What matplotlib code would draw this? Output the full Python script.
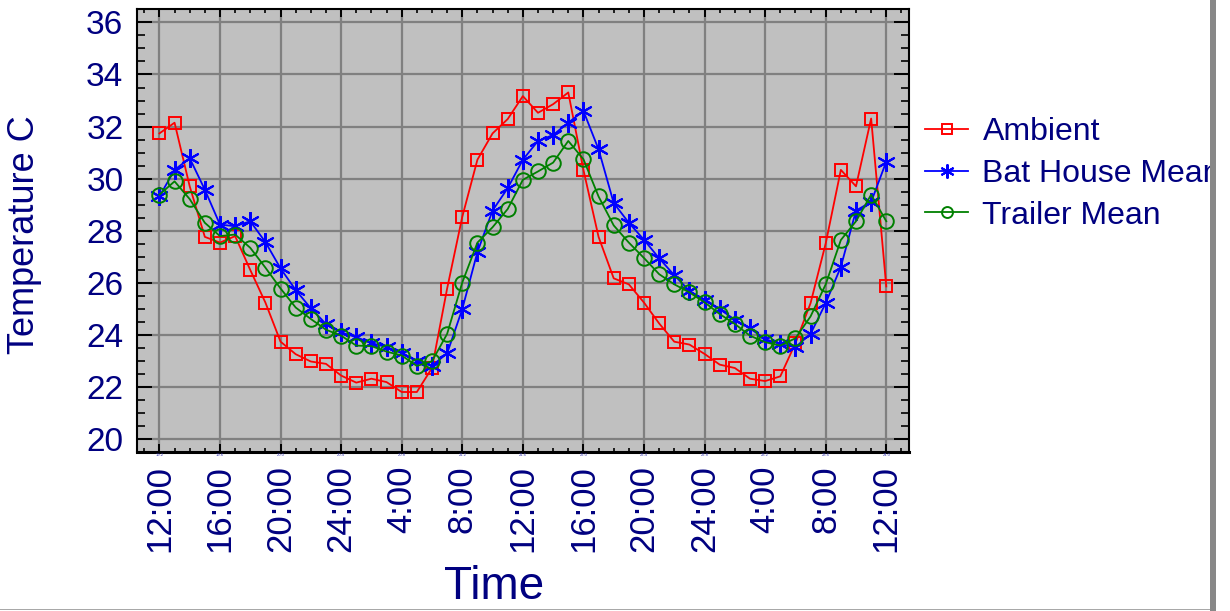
import matplotlib
matplotlib.use("Agg")
import matplotlib.pyplot as plt
from matplotlib.ticker import MultipleLocator, FixedLocator
from matplotlib.patches import Rectangle
import numpy as np

plt.rcParams['font.family'] = ['Liberation Sans', 'DejaVu Sans']

# ---- data (hourly readings, hour 0 = 12:00 on first day) ----
hours = list(range(49))

ambient = [31.74, 32.15, 29.71, 27.77, 27.55, 27.80, 26.50, 25.25, 23.75, 23.27,
           22.99, 22.90, 22.45, 22.18, 22.33, 22.20, 21.82, 21.82, 22.74, 25.79,
           28.54, 30.73, 31.74, 32.29, 33.17, 32.53, 32.86, 33.31, 30.34, 27.77,
           26.18, 25.95, 25.25, 24.45, 23.75, 23.64, 23.28, 22.87, 22.74, 22.33,
           22.24, 22.42, 23.69, 25.23, 27.52, 30.34, 29.71, 32.31, 25.87]

bat_house = [29.32, 30.34, 30.79, 29.58, 28.24, 28.18, 28.37, 27.57, 26.56, 25.73,
             25.03, 24.43, 24.11, 23.92, 23.70, 23.54, 23.32, 23.02, 22.83, 23.30,
             25.00, 27.19, 28.78, 29.64, 30.73, 31.45, 31.68, 32.15, 32.60, 31.13,
             29.07, 28.31, 27.66, 26.95, 26.30, 25.70, 25.34, 25.00, 24.59, 24.26,
             23.85, 23.66, 23.54, 24.05, 25.23, 26.62, 28.78, 29.11, 30.66]

trailer = [29.39, 29.90, 29.22, 28.31, 27.80, 27.86, 27.35, 26.59, 25.79, 25.06,
           24.62, 24.21, 23.98, 23.60, 23.58, 23.37, 23.22, 22.82, 23.00, 24.05,
           26.02, 27.55, 28.14, 28.84, 29.96, 30.28, 30.62, 31.45, 30.75, 29.32,
           28.21, 27.55, 26.96, 26.34, 25.95, 25.64, 25.26, 24.81, 24.43, 23.98,
           23.73, 23.60, 23.88, 24.72, 25.95, 27.65, 28.37, 29.39, 28.37]

tick_hours = [0, 4, 8, 12, 16, 20, 24, 28, 32, 36, 40, 44, 48]
tick_labels = ["12:00", "16:00", "20:00", "24:00", "4:00", "8:00", "12:00",
               "16:00", "20:00", "24:00", "4:00", "8:00", "12:00"]
tiny_labels = ["19.2", "19.6", "20.0", "20.4", "20.8", "21.2", "21.6",
               "22.0", "22.4", "22.8", "23.2", "23.6", "24.0"]
y_ticks = [20, 22, 24, 26, 28, 30, 32, 34, 36]

series_names = ["Ambient", "Bat House Mean", "Trailer Mean"]

# ---- figure ----
W, H = 1230, 611
fig = plt.figure(figsize=(W / 100, H / 100), dpi=100)
fig.patch.set_facecolor('white')

ax_l, ax_r, ax_t, ax_b = 136.7, 909.0, 9.3, 451.7
ax = fig.add_axes([ax_l / W, 1 - ax_b / H, (ax_r - ax_l) / W, (ax_b - ax_t) / H])
ax.set_facecolor('#c0c0c0')

navy = '#000080'
lw = 1.3
ax.plot(hours, ambient, color='#ff0000', lw=lw, marker='s', ms=9,
        mfc='none', mec='#ff0000', mew=1.4, label=series_names[0], zorder=3)
ax.plot(hours, bat_house, color='#0000ff', lw=lw, marker=(6, 2, 0), ms=13.5,
        mec='#0000ff', mew=1.5, label=series_names[1], zorder=3)
ax.plot(hours, trailer, color='#008000', lw=lw, marker='o', ms=10.5,
        mfc='none', mec='#008000', mew=1.4, label=series_names[2], zorder=3)

ax.set_xlim(-1.5, 49.5)
ax.set_ylim(19.53, 36.5)

ax.xaxis.set_major_locator(FixedLocator(tick_hours))
ax.set_xticklabels(tick_labels, rotation=90, fontsize=25, color=navy, va='top', ha='center')
ax.xaxis.set_minor_locator(MultipleLocator(1))
ax.set_yticks(y_ticks)
ax.set_yticklabels([str(v) for v in y_ticks], fontsize=24, color=navy)
ax.yaxis.set_minor_locator(MultipleLocator(0.5))

ax.tick_params(axis='y', which='major', direction='in', length=10.5, width=1.4,
               left=True, right=True, pad=9.6)
ax.tick_params(axis='y', which='minor', direction='in', length=5.5, width=1.2,
               left=True, right=True)
ax.tick_params(axis='x', which='major', direction='in', length=5.8, width=1.4,
               bottom=True, top=True, pad=9.6)
ax.tick_params(axis='x', which='minor', direction='in', length=3.2, width=1.2,
               bottom=True, top=True)

ax.grid(True, which='major', color='#808080', lw=1.6, zorder=1)
ax.set_axisbelow(True)
for s in ax.spines.values():
    s.set_linewidth(1.5)
    s.set_color('black')
ax.spines['bottom'].set_linewidth(2.2)

# tiny secondary tick labels directly under the axis
for h, lab in zip(tick_hours, tiny_labels):
    ax.text(h, -0.0085, lab, transform=ax.get_xaxis_transform(), fontsize=3,
            color='#3a3ab0', ha='center', va='center')

ax.set_xlabel("Time", fontsize=33, color=navy)
ax.xaxis.label.set_va('center')
ax.xaxis.set_label_coords((494 - ax_l) / (ax_r - ax_l), (ax_b - 587) / (ax_b - ax_t))
ax.set_ylabel("Temperature C", fontsize=26, color=navy)
ax.yaxis.label.set_va('center')
ax.yaxis.set_label_coords((24.2 - ax_l) / (ax_r - ax_l), (ax_b - 234.2) / (ax_b - ax_t))

leg = ax.legend(loc='upper left', bbox_to_anchor=((925 - ax_l) / (ax_r - ax_l), (ax_b - 117) / (ax_b - ax_t)),
                frameon=False, fontsize=23, handlelength=1.35, handletextpad=0.45,
                labelspacing=0.37, borderpad=0, borderaxespad=0, markerscale=0.75)
for t in leg.get_texts():
    t.set_color(navy)

# right border and bottom line of the page
fig.add_artist(Rectangle((1216 / W, 0), (W - 1216) / W, 1, transform=fig.transFigure,
                         facecolor='white', edgecolor='none', zorder=20))
fig.add_artist(Rectangle((1210 / W, 0), 6 / W, 1, transform=fig.transFigure,
                         facecolor='#888888', edgecolor='none', zorder=21))
fig.add_artist(Rectangle((0, 0), 1210 / W, 2 / H, transform=fig.transFigure,
                         facecolor='white', edgecolor='none', zorder=20))
fig.add_artist(Rectangle((0, 1 - 610 / H), 1210 / W, 1.2 / H, transform=fig.transFigure,
                         facecolor='#a8a8a8', edgecolor='none', zorder=21))

fig.savefig("out.png", dpi=100)
